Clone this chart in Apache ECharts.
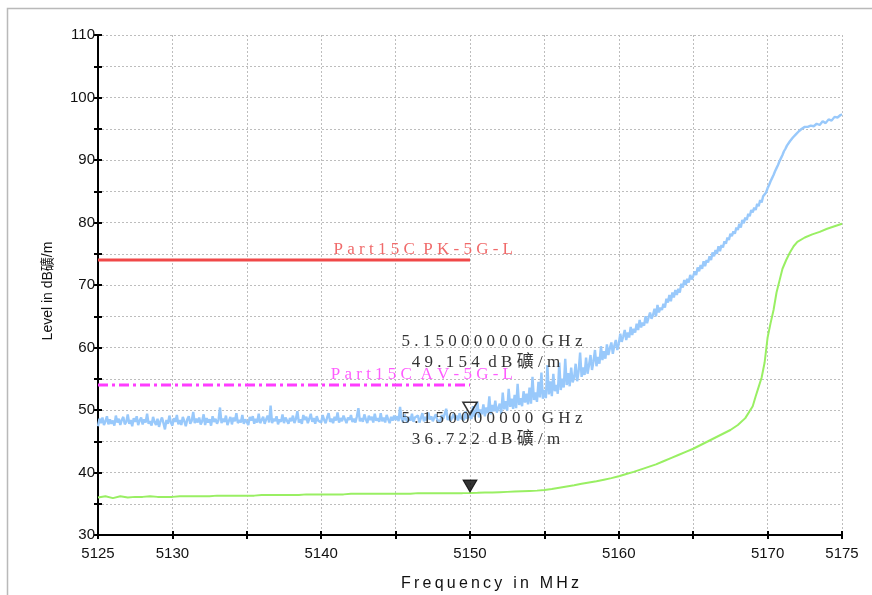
<!DOCTYPE html>
<html>
<head>
<meta charset="utf-8">
<script src="https://cdn.jsdelivr.net/npm/echarts@6/dist/echarts.min.js"></script>
<style>
  html, body { margin: 0; padding: 0; background: #ffffff; }
  #chart { width: 872px; height: 595px; }
</style>
</head>
<body>
<div id="chart"></div>
<script>
// Peak trace sweep: 5125 MHz to 5175 MHz, one reading every 0.1 MHz (one row per MHz)
const peakStart = 5125;
const peakStep = 0.1;
const peakLevel = [
  47.4, 48.6, 47.9, 48.8, 47.6, 48.2, 49.0, 47.7, 48.5, 47.8,
  48.3, 47.5, 49.1, 48.0, 48.6, 47.6, 48.4, 48.9, 47.7, 48.1,
  49.3, 47.8, 48.4, 47.4, 48.7, 48.1, 49.0, 47.6, 48.3, 48.8,
  47.7, 48.5, 48.0, 49.4, 47.8, 48.2, 47.5, 48.9, 48.1, 47.6,
  48.6, 47.3, 48.2, 48.8, 47.9, 46.9, 48.4, 47.8, 49.1, 48.0,
  47.5, 48.7, 48.1, 49.2, 47.7, 48.4, 47.6, 48.9, 48.2, 47.4,
  48.5, 49.0, 47.8, 48.3, 49.7, 47.9, 48.6, 48.0, 48.8, 47.7,
  48.2, 49.3, 47.6, 48.7, 48.0, 48.5, 47.5, 49.0, 48.1, 48.6,
  47.8, 48.4, 50.4, 47.9, 48.6, 48.1, 49.1, 47.6, 48.3, 48.9,
  47.7, 48.8, 48.2, 49.5, 47.9, 48.4, 48.0, 49.2, 47.8, 48.5,
  48.1, 47.6, 48.9, 48.3, 49.0, 47.8, 48.6, 48.0, 49.4, 47.9,
  48.4, 48.9, 47.8, 48.5, 49.1, 48.0, 50.7, 47.9, 48.6, 48.2,
  49.0, 47.7, 48.5, 48.1, 49.3, 47.9, 48.8, 48.3, 47.8, 48.7,
  48.2, 49.1, 47.9, 48.6, 49.8, 48.0, 48.5, 47.8, 49.2, 48.4,
  48.9, 47.9, 48.6, 49.4, 48.1, 48.7, 47.8, 49.0, 48.3, 48.6,
  48.0, 49.2, 48.4, 47.9, 48.8, 49.5, 48.1, 48.6, 47.9, 48.9,
  48.3, 49.6, 48.0, 48.7, 48.2, 49.1, 48.5, 47.9, 48.8, 48.4,
  49.2, 48.1, 48.6, 48.0, 49.0, 50.3, 48.2, 48.7, 48.1, 49.3,
  48.5, 47.9, 49.1, 48.4, 48.9, 48.0, 49.4, 48.3, 48.7, 48.1,
  49.5, 48.2, 48.8, 48.0, 49.2, 48.5, 47.9, 48.9, 48.3, 49.1,
  48.4, 49.0, 48.2, 50.5, 48.6, 48.1, 49.3, 48.5, 48.0, 48.9,
  48.3, 49.4, 48.1, 48.8, 48.5, 49.1, 48.0, 48.7, 49.5, 48.2,
  48.9, 48.3, 49.6, 48.5, 49.0, 48.2, 48.8, 49.3, 48.4, 48.7,
  48.1, 49.2, 48.6, 48.9, 50.2, 48.4, 49.0, 48.3, 48.8, 49.4,
  48.5, 49.1, 48.3, 49.5, 48.7, 49.0, 48.4, 49.8, 48.6, 49.2,
  49.15, 48.6, 50.6, 48.9, 49.7, 51.3, 48.8, 50.1, 49.3, 50.9,
  49.0, 50.4, 49.5, 52.2, 49.3, 50.8, 49.8, 51.5, 49.6, 50.3,
  51.0, 49.4, 52.8, 50.1, 51.4, 49.9, 53.4, 50.5, 51.8, 50.2,
  52.4, 50.3, 54.2, 50.8, 51.9, 50.6, 53.0, 51.2, 52.6, 50.9,
  53.6, 51.0, 55.3, 51.6, 52.8, 51.3, 54.5, 52.0, 56.0, 51.8,
  53.2, 51.9, 57.2, 52.5, 54.6, 52.2, 55.8, 53.0, 54.0, 52.6,
  57.6, 53.2, 55.0, 53.6, 58.2, 54.0, 55.9, 53.8, 56.8, 54.4,
  55.2, 57.4, 54.6, 56.2, 59.2, 55.3, 56.8, 55.6, 58.4, 55.8,
  57.2, 58.8, 56.4, 57.8, 59.6, 57.0, 58.5, 57.4, 60.2, 58.0,
  59.4, 58.2, 60.5, 58.8, 59.9, 60.8, 59.0, 60.3, 61.2, 59.6,
  60.6, 62.2, 60.9, 61.8, 62.8, 61.2, 62.4, 61.6, 63.3, 62.0,
  63.0, 62.4, 63.8, 62.8, 64.4, 63.2, 64.0, 63.5, 65.0, 63.9,
  64.8, 65.6, 64.6, 65.2, 66.2, 65.0, 66.8, 65.6, 66.4, 66.0,
  67.0, 66.4, 67.8, 67.2, 68.4, 67.4, 68.8, 68.0, 69.2, 68.4,
  69.4, 68.8, 70.2, 69.6, 70.8, 70.0, 71.0, 70.4, 71.6, 70.9,
  71.4, 72.2, 71.6, 72.8, 72.2, 73.2, 72.6, 73.8, 73.0, 74.0,
  73.6, 74.6, 74.0, 75.2, 74.6, 75.6, 75.0, 76.2, 75.4, 76.4,
  76.0, 77.0, 76.6, 77.6, 77.2, 78.2, 77.8, 78.6, 78.2, 79.2,
  78.8, 79.8, 79.2, 80.4, 79.9, 80.8, 80.4, 81.4, 81.0, 82.0,
  81.6, 82.4, 82.0, 83.0, 82.6, 83.6, 83.2, 84.2, 84.0, 84.8,
  85.5, 86.0, 86.6, 87.1, 87.6, 88.2, 88.7, 89.2, 89.8, 90.3,
  90.8, 91.4, 91.8, 92.3, 92.6, 93.0, 93.2, 93.6, 93.8, 94.1,
  94.3, 94.6, 94.8, 95.0, 95.1, 95.3, 95.4, 95.3, 95.2, 95.5,
  95.6, 95.4, 95.3, 95.8, 95.9, 95.6, 95.7, 96.2, 96.3, 95.9,
  96.1, 96.5, 96.7, 96.3, 96.4, 96.9, 97.1, 96.8, 96.8, 97.2,
  97.3
];

// Average trace: coarse part every 0.5 MHz from 5125 to 5169 MHz
const avgCoarseStart = 5125;
const avgCoarseStep = 0.5;
const avgCoarseLevel = [
  36.0, 36.2, 35.9, 36.2, 36.0, 36.1, 36.1, 36.2, 36.1, 36.1,
  36.1, 36.2, 36.2, 36.2, 36.2, 36.2, 36.3, 36.3, 36.3, 36.3,
  36.3, 36.3, 36.4, 36.4, 36.4, 36.4, 36.4, 36.4, 36.5, 36.5,
  36.5, 36.5, 36.5, 36.5, 36.6, 36.6, 36.6, 36.6, 36.6, 36.6,
  36.6, 36.6, 36.6, 36.7, 36.7, 36.7, 36.7, 36.7, 36.7, 36.7,
  36.72, 36.75, 36.8, 36.8, 36.85, 36.9, 36.95, 37.0, 37.05, 37.1,
  37.2, 37.35, 37.55, 37.75, 37.95, 38.2, 38.4, 38.6, 38.85, 39.1,
  39.4, 39.75, 40.1, 40.5, 40.9, 41.3, 41.8, 42.3, 42.8, 43.3,
  43.8, 44.4, 45.0, 45.6, 46.2, 46.8, 47.6, 48.7,
  50.6
];
// Average trace: finer readings across the band edge
const avgFineFreq = [
  5169.2, 5169.4, 5169.6, 5169.8, 5170.0, 5170.2, 5170.4, 5170.6, 5170.8, 5171.0,
  5171.25, 5171.5, 5171.75, 5172.0, 5172.5, 5173.0, 5173.5, 5174.0, 5174.5, 5175.0
];
const avgFineLevel = [
  52.2, 53.7, 55.2, 57.6, 61.6, 63.9, 66.0, 68.8, 70.7, 72.6,
  74.0, 75.2, 76.2, 76.9, 77.6, 78.1, 78.5, 79.0, 79.4, 79.8
];

// Limit lines
const limitFreq = [5125, 5150];
const pkLimitLevel = 74;
const avLimitLevel = 54;
const pkLimitName = 'Part15C PK-5G-L';
const avLimitName = 'Part15C AV-5G-L';

// Markers
const markerFreqMHz = [5150, 5150];
const markerLevel = [49.154, 36.722];
const markerFilled = [false, true];
const levelUnit = 'dB礦/m';

// Axes
const xMin = 5125, xMax = 5175, xStep = 5;
const xLabelValues = [5125, 5130, 5140, 5150, 5160, 5170, 5175];
const yMin = 30, yMax = 110, yStep = 5;
const yLabelStep = 10;
const xTitle = 'Frequency in MHz';
const yTitle = 'Level in dB礦/m';

const peakData = peakLevel.map((v, i) => [peakStart + i * peakStep, v]);
const avgData = avgCoarseLevel.map((v, i) => [avgCoarseStart + i * avgCoarseStep, v])
  .concat(avgFineFreq.map((f, i) => [f, avgFineLevel[i]]));

const SANS = "'Liberation Sans', Arial, 'Noto Sans CJK SC', sans-serif";
const SERIF = "'Liberation Serif', 'DejaVu Serif', 'Noto Sans CJK SC', serif";

// spread characters the way the instrument software prints its annotations
function spread(s, sep) {
  return Array.from(s).join(sep).replace(/ {3}/g, '  ');
}

const chart = echarts.init(document.getElementById('chart'), null, { renderer: 'canvas' });

const baseX = {
  type: 'value', min: xMin, max: xMax, interval: xStep,
  position: 'bottom'
};
const baseY = {
  type: 'value', min: yMin, max: yMax, interval: yStep,
  position: 'left'
};

chart.setOption({
  animation: false,
  backgroundColor: '#ffffff',
  grid: { left: 98, right: 30, top: 35, bottom: 60, containLabel: false },
  xAxis: [
    Object.assign({}, baseX, {
      axisLine: { show: true, lineStyle: { color: '#000', width: 2 } },
      axisTick: { show: true, inside: false, length: 4, lineStyle: { color: '#000', width: 2 } },
      axisLabel: {
        show: true, margin: 11, color: '#111', fontSize: 15, fontFamily: SANS,
        formatter: v => xLabelValues.indexOf(v) >= 0 ? String(v) : '',
        showMinLabel: true, showMaxLabel: true, hideOverlap: false
      },
      splitLine: { show: true, lineStyle: { color: '#bdbdbd', width: 1, type: [2, 2] } }
    }),
    Object.assign({}, baseX, {
      axisLine: { show: false },
      axisTick: { show: true, inside: true, length: 4, lineStyle: { color: '#000', width: 2 } },
      axisLabel: { show: false },
      splitLine: { show: false }
    })
  ],
  yAxis: [
    Object.assign({}, baseY, {
      axisLine: { show: true, lineStyle: { color: '#000', width: 2 } },
      axisTick: { show: true, inside: false, length: 4, lineStyle: { color: '#000', width: 2 } },
      axisLabel: {
        show: true, margin: 3, color: '#111', fontSize: 15, fontFamily: SANS,
        formatter: v => (v % yLabelStep === 0 ? String(v) : '')
      },
      splitLine: { show: true, lineStyle: { color: '#bdbdbd', width: 1, type: [2, 2] } }
    }),
    Object.assign({}, baseY, {
      axisLine: { show: false },
      axisTick: { show: true, inside: true, length: 4, lineStyle: { color: '#000', width: 2 } },
      axisLabel: { show: false },
      splitLine: { show: false }
    })
  ],
  series: [
    {
      name: 'Peak', type: 'line', data: peakData, showSymbol: false,
      lineStyle: { color: '#99c9fb', width: 2.4 }, z: 3
    },
    {
      name: 'Average', type: 'line', data: avgData, showSymbol: false,
      lineStyle: { color: '#99ef63', width: 2 }, z: 3
    },
    {
      name: pkLimitName, type: 'line', data: limitFreq.map(f => [f, pkLimitLevel]),
      showSymbol: false, lineStyle: { color: '#f04848', width: 3 }, z: 4
    },
    {
      name: avLimitName, type: 'line', data: limitFreq.map(f => [f, avLimitLevel]),
      showSymbol: false, lineStyle: { color: '#ff3cff', width: 3, type: [10, 4, 3, 4] }, z: 4
    },
    {
      name: 'Markers', type: 'scatter', z: 6,
      data: markerFreqMHz.map((f, i) => ({
        value: [f, markerLevel[i]],
        itemStyle: markerFilled[i]
          ? { color: '#000', borderColor: '#000', borderWidth: 1 }
          : { color: 'rgba(255,255,255,0)', borderColor: '#000', borderWidth: 1.6 }
      })),
      symbol: 'triangle', symbolRotate: 180, symbolSize: [14, 12], symbolOffset: [0, -7]
    }
  ]
});

// Annotations anchored to data coordinates
const texts = [];
const pk = chart.convertToPixel({ xAxisIndex: 0, yAxisIndex: 0 }, [limitFreq[1], pkLimitLevel]);
const av = chart.convertToPixel({ xAxisIndex: 0, yAxisIndex: 0 }, [limitFreq[1], avLimitLevel]);
const NOTE_FONT = '17px ' + SERIF;
texts.push({
  type: 'text', x: pk[0] + 43, y: pk[1] - 10, z: 10,
  style: { text: spread(pkLimitName, ' '), font: NOTE_FONT, fill: '#f06a6a', align: 'right', verticalAlign: 'middle' }
});
texts.push({
  type: 'text', x: av[0] + 43, y: av[1] - 10, z: 10,
  style: { text: spread(avLimitName, ' '), font: NOTE_FONT, fill: '#ff5cff', align: 'right', verticalAlign: 'middle' }
});
markerFreqMHz.forEach((f, i) => {
  const p = chart.convertToPixel({ xAxisIndex: 0, yAxisIndex: 0 }, [f, markerLevel[i]]);
  const line1 = (f / 1000).toFixed(9) + ' GHz';
  const line2 = markerLevel[i].toFixed(3) + ' ' + levelUnit;
  texts.push({
    type: 'text', x: p[0] + 22, y: p[1] - 74, z: 10,
    style: { text: spread(line1, ' '), font: NOTE_FONT, fill: '#333', align: 'center', verticalAlign: 'middle' }
  });
  texts.push({
    type: 'text', x: p[0] + 16, y: p[1] - 53, z: 10,
    style: { text: spread(line2, ' '), font: NOTE_FONT, fill: '#333', align: 'center', verticalAlign: 'middle' }
  });
});

chart.setOption({
  graphic: [
    {
      type: 'rect', z: -1, silent: true,
      shape: { x: 7.5, y: 8.5, width: 1000, height: 800 },
      style: { fill: 'none', stroke: '#b9b9b9', lineWidth: 1.5 }
    },
    {
      type: 'text', x: 48, y: 291, rotation: Math.PI / 2, z: 10,
      style: { text: yTitle, font: '14px ' + SANS, fill: '#111', align: 'center', verticalAlign: 'middle' }
    },
    {
      type: 'text', x: 490, y: 584, z: 10,
      style: { text: spread(xTitle, '\u2009'), font: '16px ' + SANS, fill: '#111', align: 'center', verticalAlign: 'middle' }
    }
  ].concat(texts)
});
</script>
</body>
</html>
